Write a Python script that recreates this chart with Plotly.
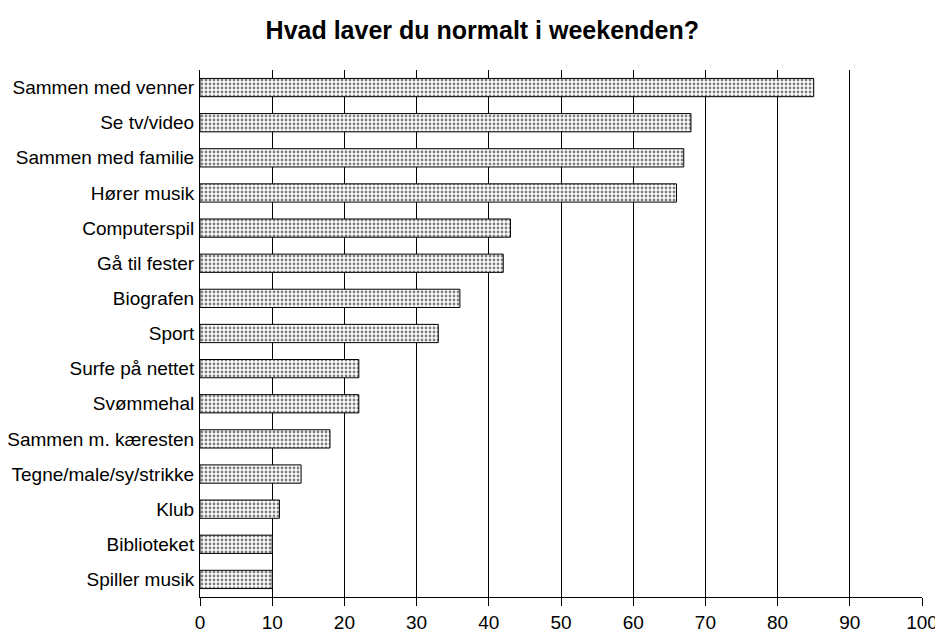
import plotly.graph_objects as go

activities = ["Sammen med venner", "Se tv/video", "Sammen med familie", "Hører musik",
              "Computerspil", "Gå til fester", "Biografen", "Sport", "Surfe på nettet",
              "Svømmehal", "Sammen m. kæresten", "Tegne/male/sy/strikke", "Klub",
              "Biblioteket", "Spiller musik"]
percent = [85, 68, 67, 66, 43, 42, 36, 33, 22, 22, 18, 14, 11, 10, 10]

fig = go.Figure(data=[
    go.Bar(
        x=percent,
        y=activities,
        orientation="h",
        width=0.52,
        marker=dict(
            color="white",
            line=dict(color="black", width=1),
            pattern=dict(shape=".", fgcolor="black", bgcolor="white", size=4, solidity=0.4),
        ),
    )
])

# page body has an 8px margin, so the margins below are shifted by that much
fig.update_layout(
    width=943, height=632,
    margin=dict(l=192, r=29, t=62, b=43),
    paper_bgcolor="white", plot_bgcolor="white",
    font=dict(family="Liberation Sans, Arial", size=19, color="black"),
    title=dict(text="<b>Hvad laver du normalt i weekenden?</b>", x=0.503, xanchor="center",
               y=0.965, yanchor="middle", font=dict(size=25)),
    showlegend=False,
)
fig.update_xaxes(range=[0, 100], dtick=10, showgrid=True, gridcolor="black", gridwidth=1,
                 showline=True, linecolor="black", linewidth=1, ticks="outside",
                 ticklen=8, tickcolor="black", zeroline=False, automargin=False)
fig.update_yaxes(autorange="reversed", showline=True, linecolor="black", linewidth=1,
                 showgrid=False, ticks="", ticklabelstandoff=1, automargin=False)

fig.write_html("out.html")
